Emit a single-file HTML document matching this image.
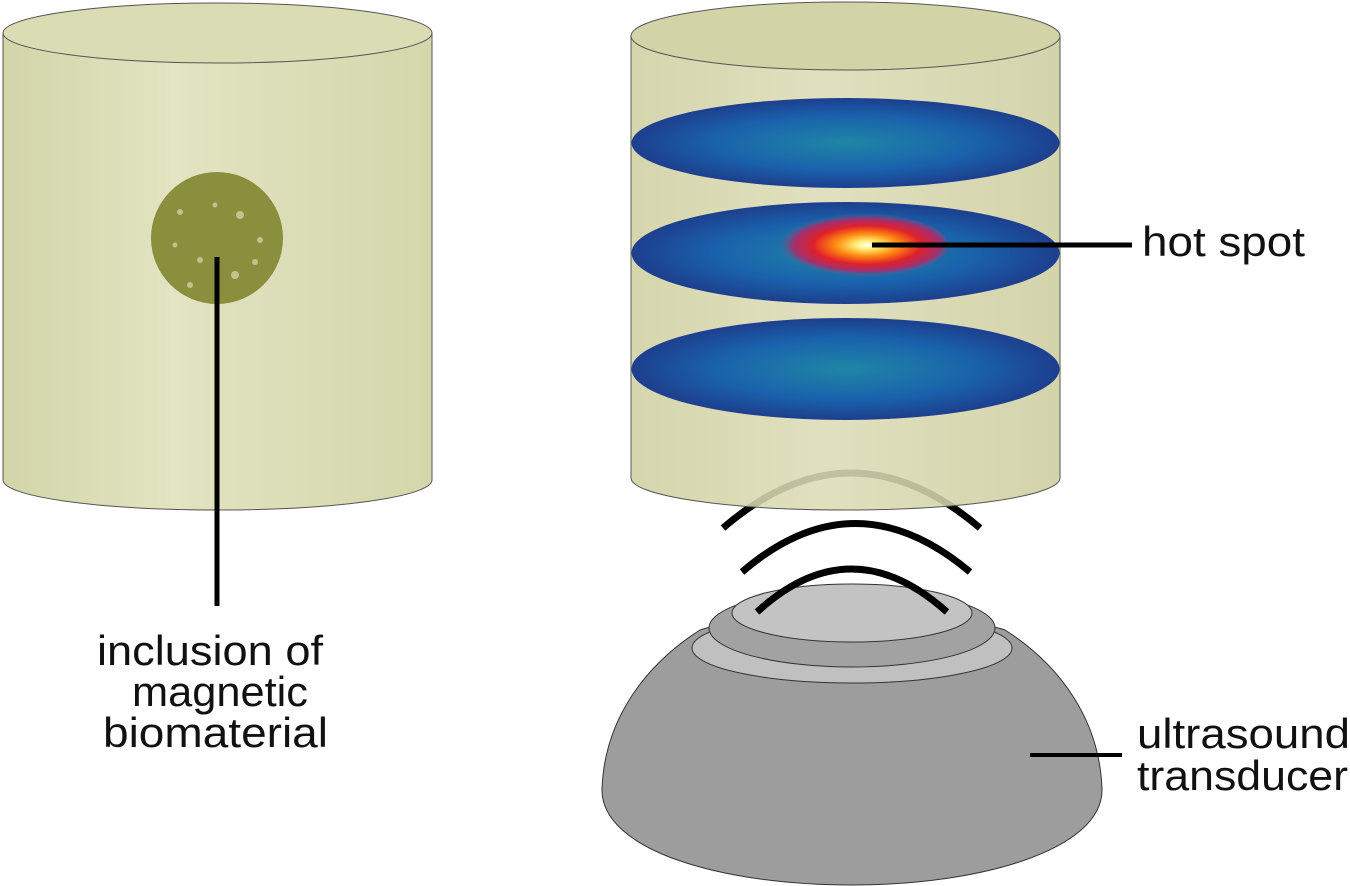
<!DOCTYPE html>
<html><head><meta charset="utf-8"><style>
html,body{margin:0;padding:0;background:#fff;}
svg{display:block;}
text{font-family:"Liberation Sans","DejaVu Sans",sans-serif;fill:#111;}
</style></head><body>
<svg width="1350" height="886" viewBox="0 0 1350 886" xmlns="http://www.w3.org/2000/svg">
<defs>
<linearGradient id="cylL" x1="0" y1="0" x2="1" y2="0">
<stop offset="0" stop-color="#d2d5a8"/><stop offset="0.4" stop-color="#e2e4c2"/><stop offset="1" stop-color="#d4d6ab"/>
</linearGradient>
<linearGradient id="cylR" x1="0" y1="0" x2="1" y2="0">
<stop offset="0" stop-color="#cfd0a2"/><stop offset="0.45" stop-color="#dcdcb6"/><stop offset="1" stop-color="#cdcda0"/>
</linearGradient>
<radialGradient id="disc" cx="0.5" cy="0.5" r="0.5">
<stop offset="0" stop-color="#1f86a6"/><stop offset="0.6" stop-color="#1a62ac"/><stop offset="1" stop-color="#1d3f8e"/>
</radialGradient>
<radialGradient id="hot" cx="0.55" cy="0.5" r="0.5">
<stop offset="0" stop-color="#ffffff"/><stop offset="0.12" stop-color="#fff27a"/><stop offset="0.35" stop-color="#ff8a10"/><stop offset="0.6" stop-color="#e0202a"/><stop offset="0.82" stop-color="#b02a6a" stop-opacity="0.9"/><stop offset="1" stop-color="#2a7aa0" stop-opacity="0"/>
</radialGradient>
</defs>

<!-- Left cylinder -->
<path d="M3,33 L3,480 A214.5,30 0 0 0 432,480 L432,33 Z" fill="url(#cylL)" stroke="#555" stroke-width="1"/>
<ellipse cx="217.5" cy="33" rx="214.5" ry="30" fill="#dadcb4" stroke="#555" stroke-width="1"/>
<circle cx="217" cy="238" r="66" fill="#8a8f3e"/>
<g fill="#cdd0a0" opacity="0.8">
<circle cx="180" cy="212" r="3"/><circle cx="240" cy="215" r="4"/><circle cx="200" cy="260" r="3"/><circle cx="235" cy="275" r="4"/><circle cx="260" cy="240" r="3"/><circle cx="175" cy="245" r="2.5"/><circle cx="215" cy="205" r="2.5"/><circle cx="255" cy="262" r="3"/><circle cx="190" cy="285" r="3"/>
</g>
<line x1="217" y1="257" x2="217" y2="606" stroke="#000" stroke-width="5"/>
<text x="97" y="665" font-size="42" textLength="226" lengthAdjust="spacingAndGlyphs">inclusion of</text>
<text x="132" y="706" font-size="42" textLength="176" lengthAdjust="spacingAndGlyphs">magnetic</text>
<text x="103" y="747" font-size="42" textLength="225" lengthAdjust="spacingAndGlyphs">biomaterial</text>

<!-- wave 3 behind -->
<path d="M723,528 Q851,418 980,528" fill="none" stroke="#000" stroke-width="7"/>

<!-- Right cylinder -->
<path d="M631,36 L631,478 A214.5,32 0 0 0 1060,478 L1060,36 Z" fill="url(#cylR)" fill-opacity="0.88" stroke="#555" stroke-width="1"/>
<ellipse cx="845.5" cy="36" rx="214.5" ry="34" fill="#d3d3a8" stroke="#555" stroke-width="1"/>
<ellipse cx="845.5" cy="143" rx="214" ry="45" fill="url(#disc)"/>
<ellipse cx="845.5" cy="253" rx="214" ry="51" fill="url(#disc)"/>
<ellipse cx="858" cy="245" rx="90" ry="32" fill="url(#hot)"/>
<ellipse cx="845.5" cy="369" rx="214" ry="51" fill="url(#disc)"/>
<line x1="872" y1="245" x2="1132" y2="245" stroke="#000" stroke-width="5"/>
<text x="1142" y="256" font-size="42" textLength="163" lengthAdjust="spacingAndGlyphs">hot spot</text>

<!-- Transducer -->
<path d="M602,790 C604,720 645,665 700,630 C760,610 945,610 1005,630 C1060,665 1100,720 1102,790 C1102,850 980,885 852,885 C720,885 602,850 602,790 Z" fill="#9d9d9d" stroke="#333" stroke-width="1"/>
<ellipse cx="852" cy="648" rx="160" ry="35" fill="#c0c0c0" stroke="#333" stroke-width="1"/>
<ellipse cx="852" cy="628" rx="143" ry="39" fill="#a2a2a2" stroke="#333" stroke-width="1"/>
<ellipse cx="852" cy="613" rx="120" ry="29" fill="#c3c3c3" stroke="#333" stroke-width="1"/>
<path d="M757,612 Q851,526 947,612" fill="none" stroke="#000" stroke-width="7"/>
<path d="M742,572 Q855,475 970,572" fill="none" stroke="#000" stroke-width="7"/>
<line x1="1030" y1="755" x2="1122" y2="755" stroke="#000" stroke-width="4"/>
<text x="1137" y="748" font-size="42" textLength="213" lengthAdjust="spacingAndGlyphs">ultrasound</text>
<text x="1137" y="790" font-size="42" textLength="211" lengthAdjust="spacingAndGlyphs">transducer</text>
</svg>
</body></html>
